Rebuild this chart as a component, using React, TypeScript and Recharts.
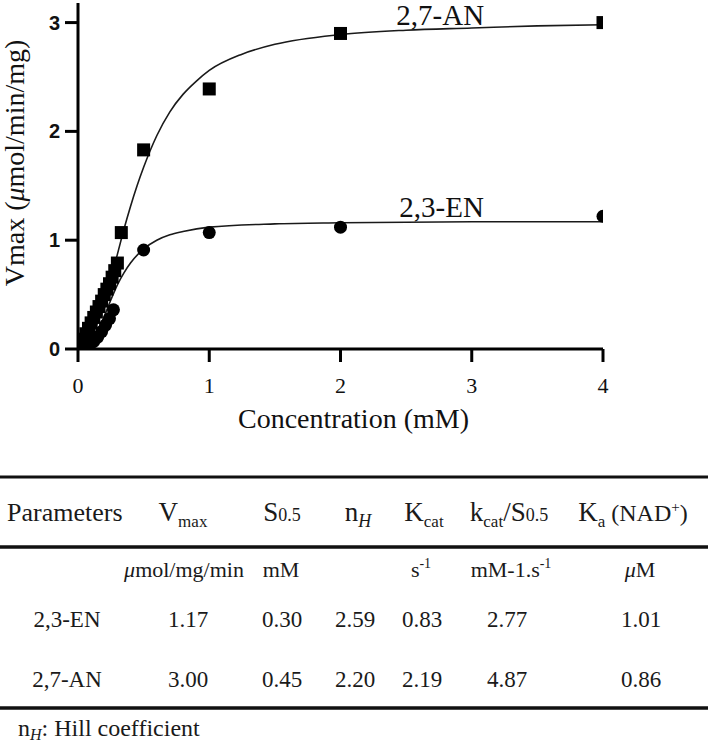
import React from 'react';
import { ComposedChart, Line, Scatter, XAxis, YAxis, ReferenceDot } from 'recharts';

// ---- measured points ----
const concAN = [0.02, 0.04, 0.06, 0.08, 0.1, 0.12, 0.14, 0.16, 0.18, 0.2, 0.22, 0.24, 0.26, 0.28, 0.3, 0.33, 0.5, 1, 2, 4];
const rateAN = [0.04, 0.09, 0.14, 0.19, 0.24, 0.29, 0.34, 0.39, 0.44, 0.5, 0.55, 0.6, 0.66, 0.72, 0.79, 1.07, 1.83, 2.39, 2.9, 3.0];

const concEN = [0.03, 0.06, 0.09, 0.12, 0.15, 0.18, 0.21, 0.24, 0.27, 0.5, 1, 2, 4];
const rateEN = [0.01, 0.02, 0.04, 0.07, 0.11, 0.16, 0.22, 0.28, 0.36, 0.91, 1.07, 1.12, 1.22];

// ---- fitted curves ----
const fitANx = [0, 0.05, 0.1, 0.15, 0.2, 0.25, 0.3, 0.35, 0.4, 0.45, 0.5, 0.6, 0.7, 0.8, 0.9, 1.0, 1.25, 1.5, 2, 2.5, 3, 3.5, 4];
const fitANy = [0, 0.02, 0.11, 0.25, 0.43, 0.65, 0.87, 1.1, 1.31, 1.5, 1.67, 1.96, 2.18, 2.34, 2.46, 2.56, 2.71, 2.8, 2.89, 2.93, 2.95, 2.97, 2.98];

const fitENx = [0, 0.05, 0.1, 0.15, 0.2, 0.25, 0.3, 0.35, 0.4, 0.5, 0.6, 0.7, 0.8, 1.0, 1.5, 2, 3, 4];
const fitENy = [0, 0.01, 0.06, 0.17, 0.3, 0.45, 0.59, 0.7, 0.79, 0.92, 1.0, 1.05, 1.08, 1.12, 1.15, 1.16, 1.17, 1.17];

const xTicks = [0, 1, 2, 3, 4];
const yTicks = [0, 1, 2, 3];

const seriesLabels = [
  { name: '2,7-AN', x: 2.76, y: 2.98 },
  { name: '2,3-EN', x: 2.77, y: 1.21 },
];

// ---- table ----
const rowNames = ['2,3-EN', '2,7-AN'];
const vmaxVals = ['1.17', '3.00'];
const s05Vals = ['0.30', '0.45'];
const nhVals = ['2.59', '2.20'];
const kcatVals = ['0.83', '2.19'];
const effVals = ['2.77', '4.87'];
const kaVals = ['1.01', '0.86'];

const zip = (xs: number[], ys: number[]) => xs.map((x, i) => ({ x, v: ys[i] }));
const pointsAN = zip(concAN, rateAN);
const pointsEN = zip(concEN, rateEN);
const curveAN = zip(fitANx, fitANy);
const curveEN = zip(fitENx, fitENy);

const SERIF = '"Liberation Serif", "Times New Roman", serif';
const SANS = '"Liberation Sans", Arial, sans-serif';
const INK = '#111';

// layout
const CHART_W = 708;
const CHART_H = 440;
const MARGIN = { top: 3, right: 105, bottom: 31, left: 18 };
const Y_AXIS_W = 60;
const X_AXIS_H = 60;
const PLOT_LEFT = MARGIN.left + Y_AXIS_W;
const PLOT_BOTTOM = CHART_H - MARGIN.bottom - X_AXIS_H;
const TICK_LEN = 13;

const SquareShape = (p: any) => (
  <rect x={p.cx - 6.5} y={p.cy - 6.5} width={13} height={13} fill="#000" />
);
const CircleShape = (p: any) => <circle cx={p.cx} cy={p.cy} r={6.5} fill="#000" />;

const XTitle = (props: any) => {
  const vb = props.viewBox || {};
  return (
    <text x={vb.x + vb.width / 2 + 13} y={vb.y + 79} textAnchor="middle" fontFamily={SERIF} fontSize={28} fill={INK}>
      Concentration (mM)
    </text>
  );
};

const YTitle = (props: any) => {
  const vb = props.viewBox || {};
  const cx = 24;
  const cy = vb.y + vb.height / 2 - 13;
  return (
    <text x={cx} y={cy} transform={`rotate(-90, ${cx}, ${cy})`} textAnchor="middle" fontFamily={SERIF} fontSize={28} fill={INK}>
      Vmax (<tspan fontStyle="italic">μ</tspan>mol/min/mg)
    </text>
  );
};

// tick = library position (p.y / p.x) + fixed tick-mark length
const YTick = (p: any) => (
  <g>
    <line x1={PLOT_LEFT - TICK_LEN} x2={PLOT_LEFT} y1={p.y} y2={p.y} stroke="#000" strokeWidth={3} />
    <text x={PLOT_LEFT - TICK_LEN - 5} y={p.y} textAnchor="end" dominantBaseline="central" fontFamily={SANS} fontSize={20} fontWeight="bold" fill={INK}>
      {p.payload.value}
    </text>
  </g>
);

const XTick = (p: any) => (
  <g>
    <line x1={p.x} x2={p.x} y1={PLOT_BOTTOM} y2={PLOT_BOTTOM + TICK_LEN} stroke="#000" strokeWidth={3} />
    <text x={p.x} y={PLOT_BOTTOM + 44} textAnchor="middle" fontFamily={SERIF} fontSize={22} fill={INK}>
      {p.payload.value}
    </text>
  </g>
);

const colVmax = 188;
const colS = 282;
const colN = 355;
const colK = 422;
const colEff = 507;
const colKa = 641;

const Table = () => {
  const rowY = [627, 687];
  return (
    <svg width={708} height={744} style={{ position: 'absolute', left: 0, top: 0, pointerEvents: 'none' }}>
      <g fontFamily={SERIF} fill="#1a1a1a">
        <line x1={0} x2={708} y1={477} y2={477} stroke="#111" strokeWidth={3} />
        <line x1={0} x2={708} y1={547} y2={547} stroke="#111" strokeWidth={3.5} />
        <line x1={0} x2={708} y1={708} y2={708} stroke="#111" strokeWidth={3.5} />

        {/* header */}
        <text x={7} y={521} fontSize={26}>Parameters</text>
        <text x={183} y={521} fontSize={27} textAnchor="middle">
          V<tspan fontSize={17} dy={6}>max</tspan>
        </text>
        <text x={282} y={521} fontSize={27} textAnchor="middle">
          S<tspan fontSize={18}>0.5</tspan>
        </text>
        <text x={358} y={521} fontSize={27} textAnchor="middle">
          n<tspan fontSize={18} dy={6} fontStyle="italic">H</tspan>
        </text>
        <text x={424} y={521} fontSize={27} textAnchor="middle">
          K<tspan fontSize={17} dy={6}>cat</tspan>
        </text>
        <text x={509} y={521} fontSize={27} textAnchor="middle">
          k<tspan fontSize={17} dy={6}>cat</tspan>
          <tspan dy={-6}>/S</tspan>
          <tspan fontSize={18}>0.5</tspan>
        </text>
        <text x={633} y={521} fontSize={27} textAnchor="middle">
          K<tspan fontSize={17} dy={6}>a</tspan>
          <tspan dy={-6} fontSize={24}> (NAD</tspan>
          <tspan fontSize={15} dy={-9}>+</tspan>
          <tspan fontSize={24} dy={9}>)</tspan>
        </text>

        {/* units */}
        <text x={184} y={577} fontSize={22} textAnchor="middle">
          <tspan fontStyle="italic">μ</tspan>mol/mg/min
        </text>
        <text x={281} y={577} fontSize={22} textAnchor="middle">mM</text>
        <text x={421} y={577} fontSize={22} textAnchor="middle">
          s<tspan fontSize={14} dy={-9}>-1</tspan>
        </text>
        <text x={511} y={577} fontSize={22} textAnchor="middle">
          mM-1.s<tspan fontSize={14} dy={-9}>-1</tspan>
        </text>
        <text x={640} y={577} fontSize={22} textAnchor="middle">
          <tspan fontStyle="italic">μ</tspan>M
        </text>

        {/* rows */}
        {rowNames.map((name, i) => (
          <g key={name} fontSize={23}>
            <text x={67} y={rowY[i]} textAnchor="middle">{name}</text>
            <text x={colVmax} y={rowY[i]} textAnchor="middle">{vmaxVals[i]}</text>
            <text x={colS} y={rowY[i]} textAnchor="middle">{s05Vals[i]}</text>
            <text x={colN} y={rowY[i]} textAnchor="middle">{nhVals[i]}</text>
            <text x={colK} y={rowY[i]} textAnchor="middle">{kcatVals[i]}</text>
            <text x={colEff} y={rowY[i]} textAnchor="middle">{effVals[i]}</text>
            <text x={colKa} y={rowY[i]} textAnchor="middle">{kaVals[i]}</text>
          </g>
        ))}

        {/* footnote */}
        <text x={18} y={736} fontSize={24}>
          n<tspan fontSize={16} dy={4} fontStyle="italic">H</tspan>
          <tspan dy={-4}>: Hill coefficient</tspan>
        </text>
      </g>
    </svg>
  );
};

export default function App() {
  return (
    <div style={{ position: 'absolute', left: 0, top: 0, width: 708, height: 744, background: '#fff', overflow: 'hidden' }}>
      <ComposedChart width={CHART_W} height={CHART_H} margin={MARGIN}>
        <XAxis
          type="number"
          dataKey="x"
          domain={[0, 4]}
          ticks={xTicks}
          allowDataOverflow
          height={X_AXIS_H}
          axisLine={{ stroke: '#000', strokeWidth: 3 }}
          tickLine={false}
          tick={<XTick />}
          label={<XTitle />}
        />
        <YAxis
          type="number"
          dataKey="v"
          domain={[0, 3.18]}
          ticks={yTicks}
          allowDataOverflow
          width={Y_AXIS_W}
          axisLine={{ stroke: '#000', strokeWidth: 3 }}
          tickLine={false}
          tick={<YTick />}
          label={<YTitle />}
        />
        <Line data={curveAN} dataKey="v" type="monotone" stroke="#1a1a1a" strokeWidth={1.6} dot={false} activeDot={false} isAnimationActive={false} />
        <Line data={curveEN} dataKey="v" type="monotone" stroke="#1a1a1a" strokeWidth={1.6} dot={false} activeDot={false} isAnimationActive={false} />
        <Scatter data={pointsEN} dataKey="v" shape={CircleShape} isAnimationActive={false} />
        <Scatter data={pointsAN} dataKey="v" shape={SquareShape} isAnimationActive={false} />
        {seriesLabels.map((s) => (
          <ReferenceDot
            key={s.name}
            x={s.x}
            y={s.y}
            r={0}
            ifOverflow="visible"
            shape={(p: any) => (
              <text x={p.cx} y={p.cy} textAnchor="middle" fontFamily={SERIF} fontSize={29} fill={INK}>
                {s.name}
              </text>
            )}
          />
        ))}
      </ComposedChart>
      <Table />
    </div>
  );
}
